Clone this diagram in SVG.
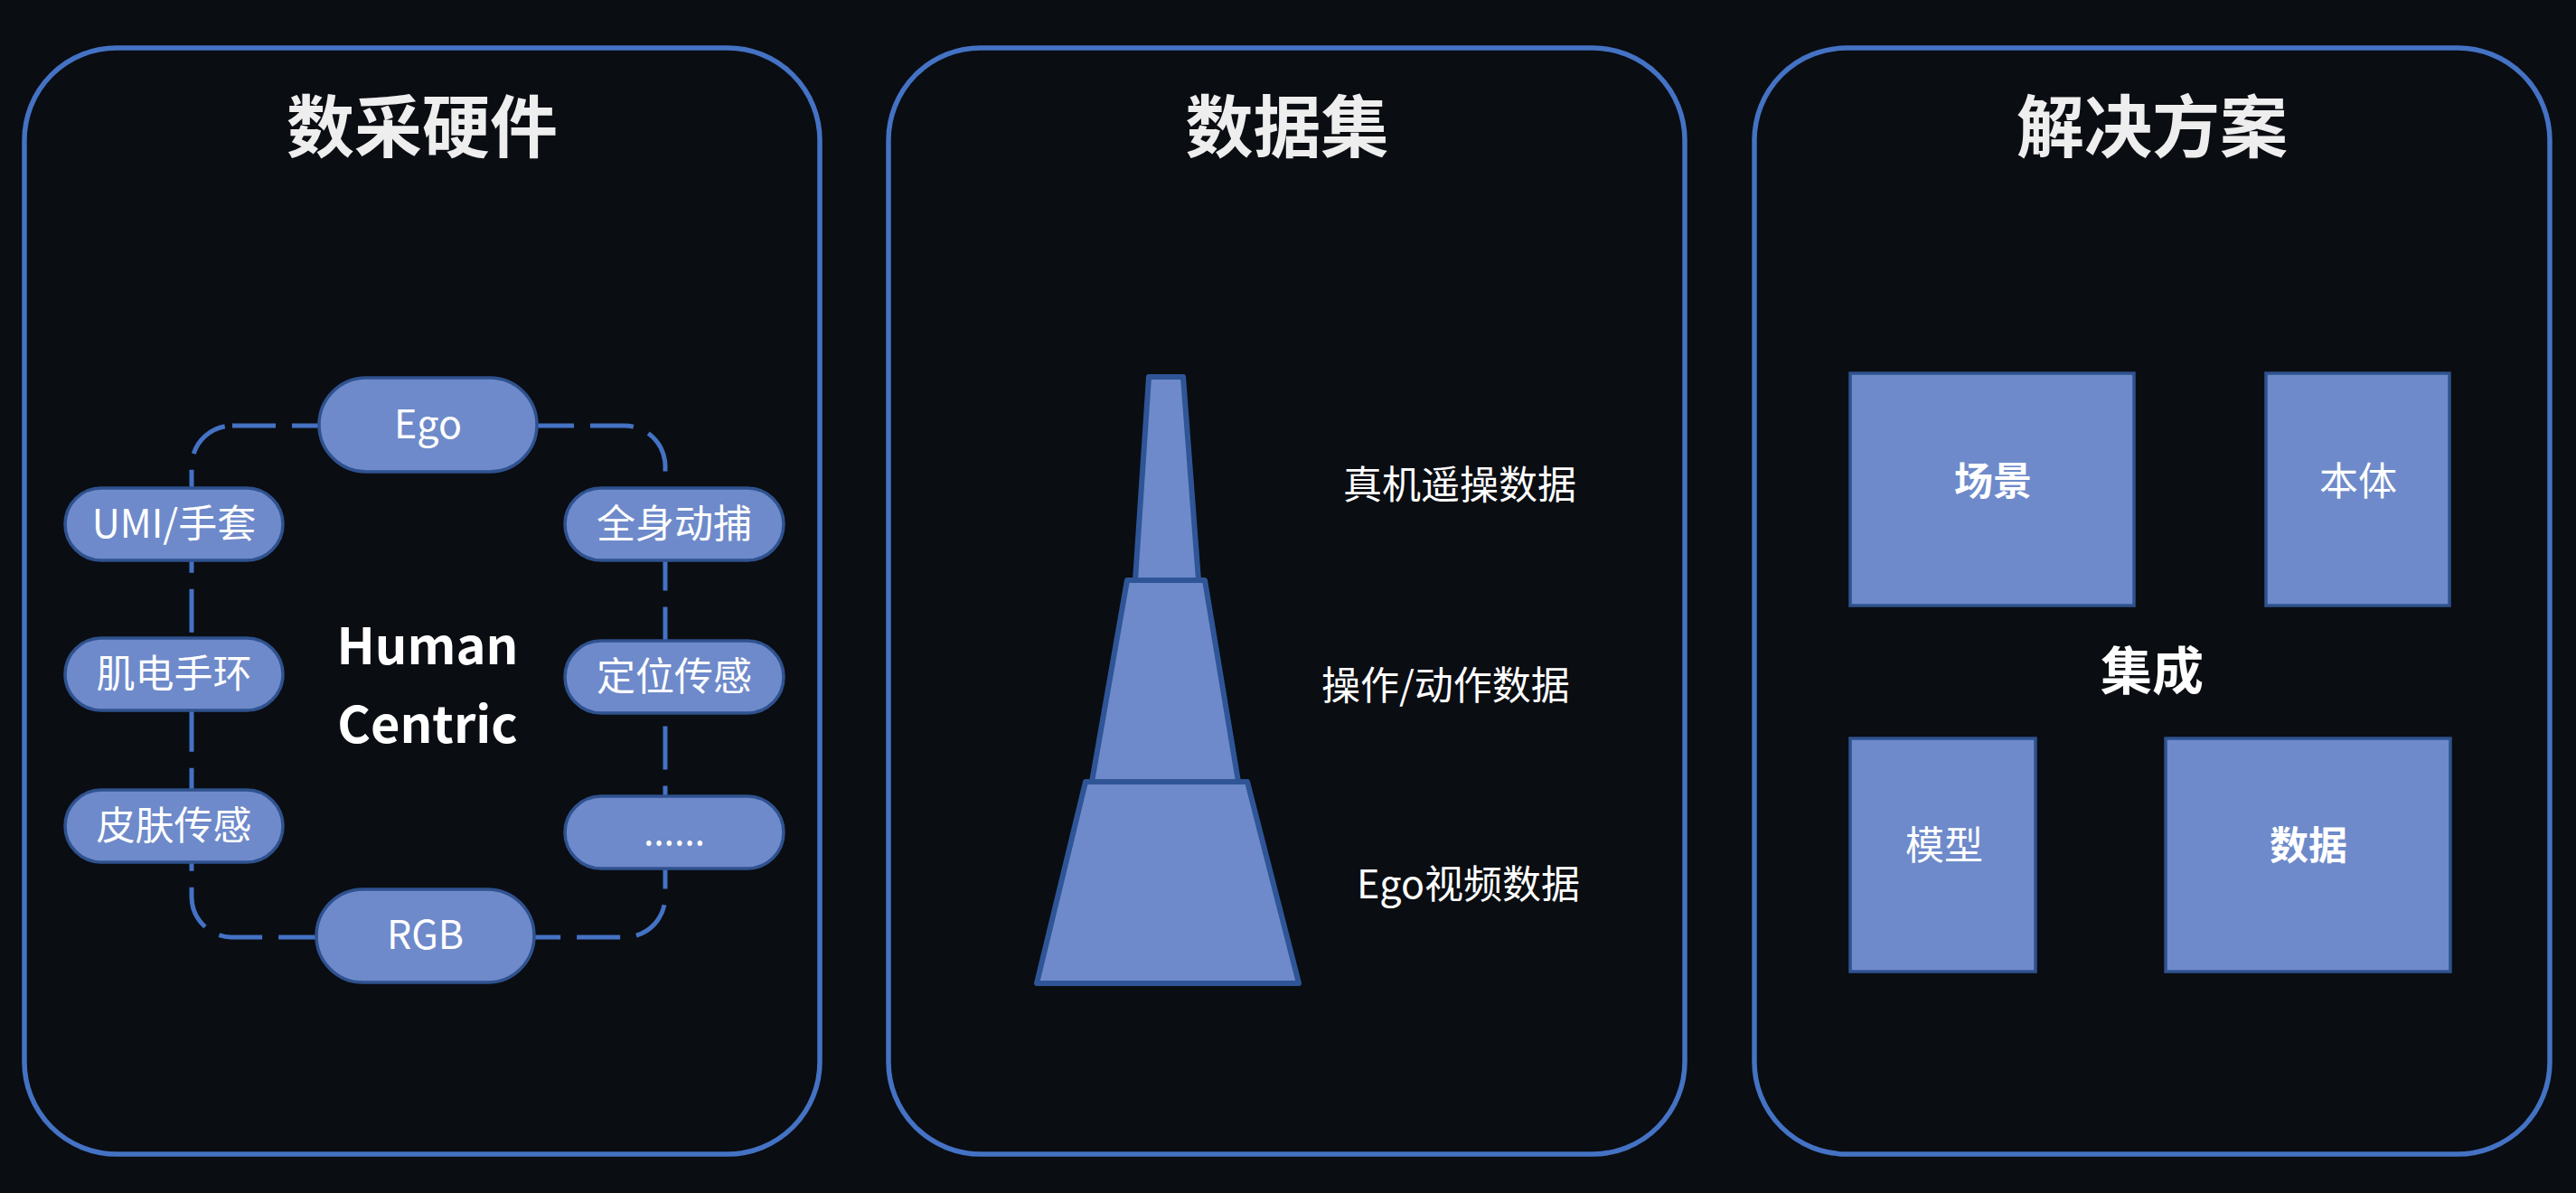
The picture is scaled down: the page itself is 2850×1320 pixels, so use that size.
<svg xmlns="http://www.w3.org/2000/svg" width="2850" height="1320" viewBox="0 0 2850 1320">
<style>
.panel{fill:none;stroke:#4472C4;stroke-width:5.5}
.title{font-family:"Noto Sans CJK SC","Noto Sans",sans-serif;font-weight:700;font-size:75px;fill:#EEEEEE;text-anchor:middle}
.pill{fill:#6E8ACA;stroke:#2F528F;stroke-width:3.5}
.box{fill:#6E8ACA;stroke:#2F528F;stroke-width:3.5}
.tier{fill:#6E8ACA;stroke:#2F5597;stroke-width:6;stroke-linejoin:round}
.t{font-family:"Noto Sans CJK SC","Noto Sans",sans-serif;font-size:43px;fill:#FFFFFF;text-anchor:middle}
.lbl{font-family:"Noto Sans CJK SC","Noto Sans",sans-serif;font-size:43px;fill:#FFFFFF}
.b{font-weight:700}
.loop{fill:none;stroke:#4472C4;stroke-width:5;stroke-dasharray:48 18}
</style>
<rect width="2850" height="1320" fill="#0A0D12"/>

<g id="panel-hardware">
<rect class="panel" x="27" y="53" width="880" height="1224" rx="102"/>
<text class="title" x="467" y="168">数采硬件</text>
</g>
<g id="panel-dataset">
<rect class="panel" x="983" y="53" width="881" height="1224" rx="102"/>
<text class="title" x="1424" y="168">数据集</text>
</g>
<g id="panel-solution">
<rect class="panel" x="1941" y="53" width="880" height="1224" rx="102"/>
<text class="title" x="2381" y="168">解决方案</text>
</g>

<g id="connectors">
<rect class="loop" x="212" y="471" width="524" height="566" rx="45"/>
</g>

<g id="node-ego"><rect class="pill" x="353" y="418" width="241" height="104" rx="52"/><text class="t" x="473.5" y="485">Ego</text></g>
<g id="node-umi"><rect class="pill" x="72" y="540" width="241" height="80" rx="40"/><text class="t" x="192.5" y="595">UMI/手套</text></g>
<g id="node-emg"><rect class="pill" x="72" y="706" width="241" height="80" rx="40"/><text class="t" x="192.5" y="761">肌电手环</text></g>
<g id="node-skin"><rect class="pill" x="72" y="874" width="241" height="80" rx="40"/><text class="t" x="192.5" y="929">皮肤传感</text></g>
<g id="node-mocap"><rect class="pill" x="625" y="540" width="242" height="80" rx="40"/><text class="t" x="746" y="595">全身动捕</text></g>
<g id="node-loc"><rect class="pill" x="625" y="709" width="242" height="80" rx="40"/><text class="t" x="746" y="764">定位传感</text></g>
<g id="node-more"><rect class="pill" x="625" y="881" width="242" height="80" rx="40"/><text class="t" x="746" y="936" style="font-family:'Noto Sans','Noto Sans CJK SC',sans-serif">……</text></g>
<g id="node-rgb"><rect class="pill" x="350" y="984" width="241" height="103" rx="51.5"/><text class="t" x="470.5" y="1050">RGB</text></g>
<g id="center-label">
<text class="t b" x="473" y="735" style="font-size:56px">Human</text>
<text class="t b" x="473" y="822" style="font-size:56px">Centric</text>
</g>

<g id="pyramid">
<polygon class="tier" points="1147,1088 1437,1088 1380,865 1201,865"/>
<polygon class="tier" points="1208,865 1370,865 1333,642 1247,642"/>
<polygon class="tier" points="1256,642 1326,642 1309,417 1271,417"/>
</g>
<g id="pyramid-labels">
<text class="lbl" x="1486" y="552">真机遥操数据</text>
<text class="lbl" x="1462" y="774">操作/动作数据</text>
<text class="lbl" x="1501" y="994">Ego视频数据</text>
</g>

<g id="node-scene"><rect class="box" x="2047" y="413" width="314" height="257"/><text class="t b" x="2205" y="548">场景</text></g>
<g id="node-body"><rect class="box" x="2507" y="413" width="203" height="257"/><text class="t" x="2609" y="548">本体</text></g>
<text class="t b" x="2381" y="763" style="font-size:57px">集成</text>
<g id="node-model"><rect class="box" x="2047" y="817" width="205" height="258"/><text class="t" x="2151" y="951">模型</text></g>
<g id="node-data"><rect class="box" x="2396" y="817" width="315" height="258"/><text class="t b" x="2554" y="951">数据</text></g>
</svg>
